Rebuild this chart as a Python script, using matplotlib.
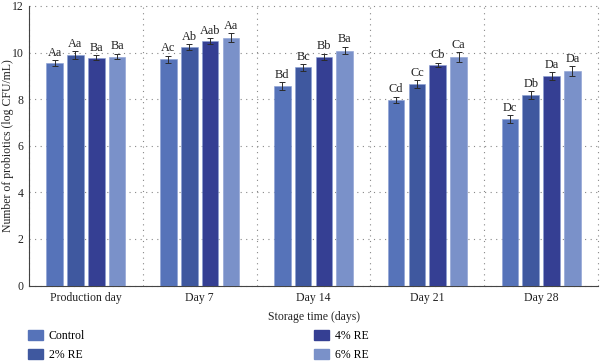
import numpy as np
import matplotlib
matplotlib.use("Agg")
import matplotlib.pyplot as plt
from matplotlib.patches import Patch

plt.rcParams["font.family"] = ["Liberation Serif", "DejaVu Serif"]

days = ["Production day", "Day 7", "Day 14", "Day 21", "Day 28"]
groups = ["Control", "2% RE", "4% RE", "6% RE"]
colors = ["#5673b9", "#3f589f", "#353f93", "#7a91c9"]

# nilai rata-rata (log CFU/mL) per kelompok
control = [9.55, 9.72, 8.57, 7.97, 7.14]
re2 = [9.88, 10.22, 9.36, 8.65, 8.18]
re4 = [9.78, 10.49, 9.83, 9.46, 9.00]
re6 = [9.83, 10.64, 10.08, 9.81, 9.20]

# standar deviasi
control_err = [0.12, 0.15, 0.16, 0.14, 0.16]
re2_err = [0.17, 0.13, 0.14, 0.16, 0.16]
re4_err = [0.11, 0.13, 0.13, 0.10, 0.16]
re6_err = [0.11, 0.18, 0.16, 0.20, 0.21]

# huruf signifikansi
control_lbl = ["Aa", "Ac", "Bd", "Cd", "Dc"]
re2_lbl = ["Aa", "Ab", "Bc", "Cc", "Db"]
re4_lbl = ["Ba", "Aab", "Bb", "Cb", "Da"]
re6_lbl = ["Ba", "Aa", "Ba", "Ca", "Da"]

series = [control, re2, re4, re6]
errors = [control_err, re2_err, re4_err, re6_err]
labels = [control_lbl, re2_lbl, re4_lbl, re6_lbl]

fig = plt.figure(figsize=(6.0, 3.61), dpi=100)
ax = fig.add_axes([29 / 600, 1 - 285.5 / 361, 569 / 600, 279.5 / 361])

x = np.arange(len(days))
step = 0.183
width = 0.146
for i, (vals, errs, lbls, c) in enumerate(zip(series, errors, labels, colors)):
    pos = x + (i - 1.5) * step
    ax.bar(pos, vals, width=width, color=c, edgecolor="#8a9fd4", linewidth=0.4,
           yerr=errs, capsize=2.5,
           error_kw=dict(ecolor="#2b2b2b", elinewidth=0.7, capthick=0.7), zorder=3)
    for p, v, e, t in zip(pos, vals, errs, lbls):
        ax.text(p, v + e + 0.07, t, ha="center", va="bottom", fontsize=8.8,
                color="#222222", zorder=4)

ax.set_xlim(-0.5, len(days) - 0.5)
ax.set_ylim(0, 12)
ax.set_yticks([0, 2, 4, 6, 8, 10, 12])
ax.set_xticks(x)
ax.set_xticklabels(days)
ax.set_xticks(np.arange(len(days) + 1) - 0.5, minor=True)
ax.tick_params(axis="x", which="both", length=0, labelsize=8.5, pad=5, colors="#222222")
ax.tick_params(axis="y", length=0, labelsize=8.5, pad=4, colors="#222222")

ax.grid(axis="y", which="major", linestyle=(0, (1, 4)), color="#888888", linewidth=0.8, zorder=0)
ax.grid(axis="x", which="minor", linestyle=(0, (1, 4)), color="#888888", linewidth=0.8, zorder=0)
ax.grid(axis="x", which="major", visible=False)
for t in ax.xaxis.get_minor_ticks() + ax.yaxis.get_major_ticks():
    t.gridline.set_clip_on(False)

for s in ["top", "right"]:
    ax.spines[s].set_visible(False)
ax.spines["left"].set_color("#444444")
ax.spines["bottom"].set_color("#444444")
ax.spines["left"].set_linewidth(0.8)
ax.spines["bottom"].set_linewidth(0.8)

ax.set_xlabel("Storage time (days)", fontsize=8.5, labelpad=5, color="#222222")
ax.set_ylabel("Number of probiotics (log CFU/mL)", fontsize=8.5, color="#222222")
ax.yaxis.set_label_coords(-15 / 569, 0.5)

handles = [Patch(facecolor=c, edgecolor=c) for c in colors]
leg_kw = dict(loc="upper left", frameon=False, fontsize=8.5, handlelength=1.3,
              handleheight=0.95, labelspacing=0.6, handletextpad=0.45, borderpad=0,
              borderaxespad=0)
fig.legend(handles[:2], groups[:2], bbox_to_anchor=(28 / 600, 1 - 330 / 361), **leg_kw)
fig.legend(handles[2:], groups[2:], bbox_to_anchor=(314 / 600, 1 - 330 / 361), **leg_kw)

fig.savefig("out.png", dpi=100)
